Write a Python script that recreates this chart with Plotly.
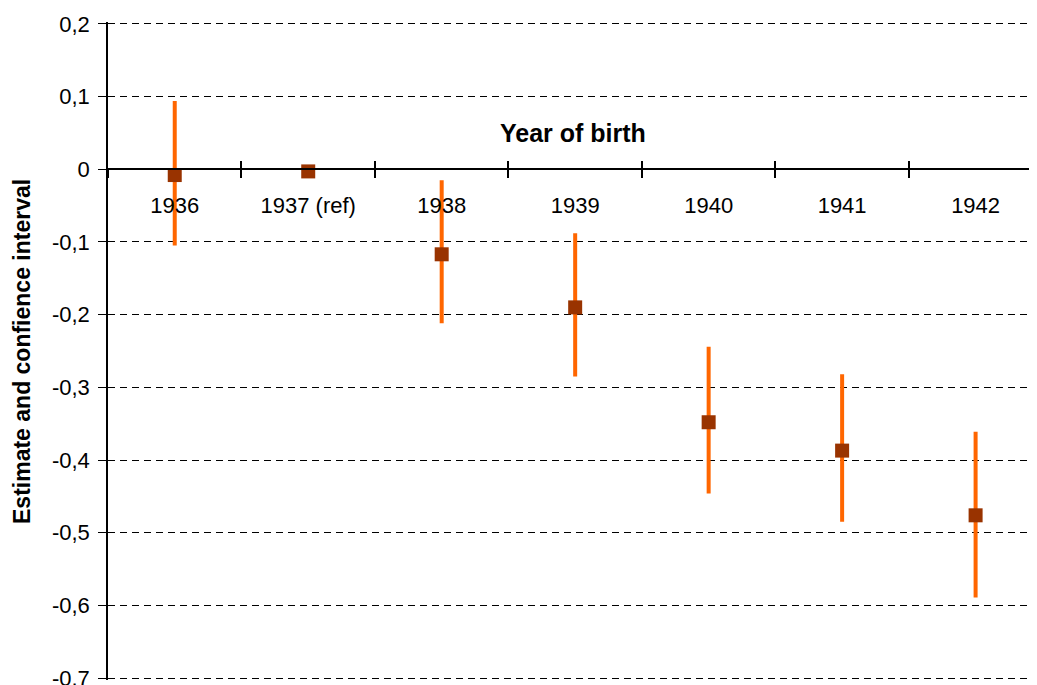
import plotly.graph_objects as go

# 出生年份类别
years = ["1936", "1937 (ref)", "1938", "1939", "1940", "1941", "1942"]
# 估计值及置信区间
estimate = [-0.008, -0.003, -0.117, -0.190, -0.348, -0.387, -0.476]
ci_upper = [0.094, -0.003, -0.015, -0.088, -0.244, -0.282, -0.361]
ci_lower = [-0.105, -0.003, -0.212, -0.285, -0.446, -0.485, -0.589]
# y轴刻度
y_ticks = [0.2, 0.1, 0, -0.1, -0.2, -0.3, -0.4, -0.5, -0.6, -0.7]
y_tick_labels = ["0,2", "0,1", "0", "-0,1", "-0,2", "-0,3", "-0,4", "-0,5", "-0,6", "-0,7"]

x_pos = list(range(len(years)))
boundaries = [i - 0.5 for i in range(len(years) + 1)]
x_range = [-0.5, 6.46]
y_range = [-0.7025, 0.2025]  # 稍微放宽，使边缘网格线可见
axis_pos = (0 - y_range[0]) / (y_range[1] - y_range[0])
FONT = "Liberation Sans, Arial, sans-serif"

err_plus = [u - e for u, e in zip(ci_upper, estimate)]
err_minus = [e - l for e, l in zip(estimate, ci_lower)]

fig = go.Figure()
fig.add_trace(go.Scatter(
    x=x_pos, y=estimate,
    mode="markers",
    marker=dict(symbol="square", size=14, color="#993300"),
    error_y=dict(type="data", symmetric=False, array=err_plus, arrayminus=err_minus,
                 color="#FF6600", thickness=4, width=0),
    showlegend=False,
))
# 辅助轨迹，用于显示向上的刻度线
fig.add_trace(go.Scatter(
    x=[0], y=[0], xaxis="x2", mode="markers",
    marker=dict(opacity=0), hoverinfo="skip", showlegend=False,
))

# 页面body有8px边距，尺寸相应缩小
fig.update_layout(
    width=1029, height=677,
    margin=dict(l=100, r=0, t=14, b=5),
    paper_bgcolor="white", plot_bgcolor="white",
    font=dict(family=FONT, size=22, color="black"),
    xaxis=dict(
        range=x_range, anchor="free", position=axis_pos,
        tickmode="array", tickvals=x_pos, ticktext=years,
        ticks="", ticklabelstandoff=17,
        minor=dict(tickmode="array", tickvals=boundaries, ticks="outside",
                   ticklen=8, tickwidth=1.5, tickcolor="black", showgrid=False),
        showline=True, linecolor="black", linewidth=1.5,
        showgrid=False, zeroline=False, automargin=False,
        tickfont=dict(size=22),
    ),
    xaxis2=dict(
        range=x_range, overlaying="x", anchor="free", position=axis_pos,
        tickmode="array", tickvals=boundaries, ticks="inside",
        ticklen=8, tickwidth=1.5, tickcolor="black",
        showticklabels=False, showline=False, showgrid=False, zeroline=False,
    ),
    yaxis=dict(
        range=y_range,
        tickmode="array", tickvals=y_ticks, ticktext=y_tick_labels,
        ticks="outside", ticklen=8, tickcolor="black", tickwidth=1,
        ticklabelstandoff=4, ticklabeloverflow="allow",
        showline=True, linecolor="black", linewidth=1.5,
        showgrid=True, gridcolor="black", gridwidth=1, griddash="7px,5px",
        zeroline=False, automargin=False,
        tickfont=dict(size=22),
    ),
)

fig.add_annotation(
    text="<b>Year of birth</b>",
    xref="paper", yref="y", x=0.5, y=0.05,
    showarrow=False, font=dict(size=25, color="black"),
    xanchor="center", yanchor="middle",
)
fig.add_annotation(
    text="<b>Estimate and confience interval</b>",
    xref="paper", yref="paper", x=-0.0926, y=0.5,
    textangle=-90, showarrow=False, font=dict(size=23, color="black"),
    xanchor="center", yanchor="middle",
)

fig.write_html("out.html")
